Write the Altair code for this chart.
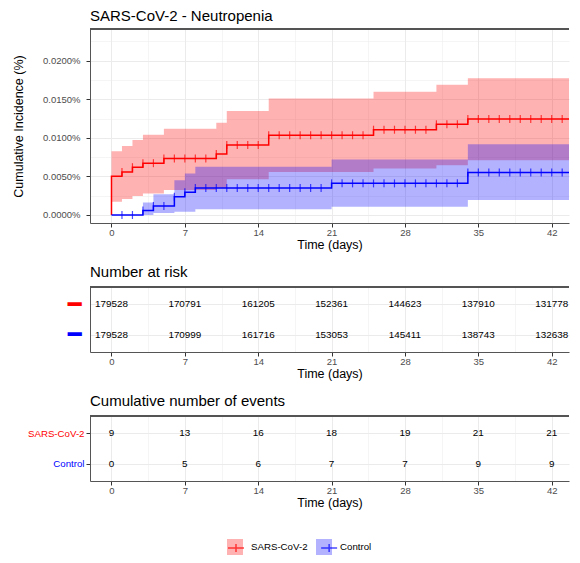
import altair as alt
import pandas as pd

GROUPS = ["SARS-CoV-2", "Control"]
RED, BLUE = "#FF0000", "#0000FF"

# ---- cumulative incidence (%) ----
red_t = [0, 1, 2, 3, 5, 10, 11, 15, 25, 31, 34]
red_est = [0.00501, 0.00559, 0.00620, 0.00672, 0.00731, 0.00792, 0.00908, 0.01034, 0.01106, 0.01176, 0.01244]
red_hi = [0.00827, 0.00895, 0.00973, 0.01042, 0.01119, 0.01197, 0.01348, 0.01512, 0.01597, 0.01688, 0.01774]
red_lo = [0.00172, 0.00207, 0.00245, 0.00279, 0.00323, 0.00350, 0.00465, 0.00559, 0.00602, 0.00646, 0.00710]

blue_t = [0, 3, 4, 6, 7, 8, 21, 34]
blue_est = [0.0, 0.00058, 0.00117, 0.00235, 0.00294, 0.00350, 0.00410, 0.00550]
blue_hi = [0.0, 0.00163, 0.00270, 0.00452, 0.00538, 0.00625, 0.00718, 0.00917]
blue_lo = [0.0, 0.00001, 0.00026, 0.00043, 0.00043, 0.00075, 0.00107, 0.00194]

censor_days = list(range(1, 44))

# ---- tables ----
table_times = [0, 7, 14, 21, 28, 35, 42]
risk_sars = [179528, 170791, 161205, 152361, 144623, 137910, 131778]
risk_ctrl = [179528, 170999, 161716, 153053, 145411, 138743, 132638]
events_sars = [9, 13, 16, 18, 19, 21, 21]
events_ctrl = [0, 5, 6, 7, 7, 9, 9]

x_major = [0, 7, 14, 21, 28, 35, 42]
x_minor = [3.5, 10.5, 17.5, 24.5, 31.5, 38.5]
y_major = [0.0, 0.005, 0.01, 0.015, 0.02]
y_minor = [0.0025, 0.0075, 0.0125, 0.0175, 0.0225]

X_MIN, X_MAX = -2.05, 43.65
Y_MIN, Y_MAX = -0.00104, 0.02412
W = 479
FONT = "Liberation Sans"
LEGEND_FONT_SIZE = 9.7


def step_value(ts, vals, d):
    v = vals[0]
    for t, val in zip(ts, vals):
        if t <= d:
            v = val
    return v


band_rows, line_rows, cens_rows = [], [], []
series = [
    ("SARS-CoV-2", red_t, red_est, red_lo, red_hi),
    ("Control", blue_t, blue_est, blue_lo, blue_hi),
]
for g, ts, est, lo, hi in series:
    for t, l, h in zip(ts, lo, hi):
        band_rows.append(dict(t=t, lo=l, hi=h, band=g))
    band_rows.append(dict(t=X_MAX, lo=lo[-1], hi=hi[-1], band=g))
    i = 0
    if est[0] > 0:
        line_rows.append(dict(t=ts[0], est=0.0, grp=g, i=i)); i += 1
    for t, e in zip(ts, est):
        line_rows.append(dict(t=t, est=e, grp=g, i=i)); i += 1
    line_rows.append(dict(t=X_MAX, est=est[-1], grp=g, i=i))
    for d in censor_days:
        cens_rows.append(dict(t=d, est=step_value(ts, est, d), grp=g))

band_df = pd.DataFrame(band_rows)
line_df = pd.DataFrame(line_rows)
cens_df = pd.DataFrame(cens_rows)

risk_df = pd.DataFrame(
    [dict(t=t, strata="SARS-CoV-2", n=n) for t, n in zip(table_times, risk_sars)]
    + [dict(t=t, strata="Control", n=n) for t, n in zip(table_times, risk_ctrl)]
)
ev_df = pd.DataFrame(
    [dict(t=t, strata="SARS-CoV-2", n=n) for t, n in zip(table_times, events_sars)]
    + [dict(t=t, strata="Control", n=n) for t, n in zip(table_times, events_ctrl)]
)

xscale = alt.Scale(domain=[X_MIN, X_MAX], nice=False, zero=False)
yscale = alt.Scale(domain=[Y_MIN, Y_MAX], nice=False, zero=False)

X_MAJOR_TEST = "datum.value % 7 === 0"
Y_MAJOR_TEST = "round(datum.value * 10000) % 50 === 0"


def x_axis():
    return alt.Axis(
        values=sorted(x_major + x_minor),
        labelExpr=f"{X_MAJOR_TEST} ? datum.label : ''",
        labelOverlap=False,
        labelFlush=False,
        gridWidth={"condition": {"test": X_MAJOR_TEST, "value": 1}, "value": 0.5},
        tickOpacity={"condition": {"test": X_MAJOR_TEST, "value": 1}, "value": 0},
        title="Time (days)",
        titlePadding=2,
        labelPadding=0,
    )


def y_axis():
    return alt.Axis(
        values=sorted(y_major + y_minor),
        labelExpr=f"{Y_MAJOR_TEST} ? format(datum.value, '.4f') + '%' : ''",
        labelOverlap=False,
        gridWidth={"condition": {"test": Y_MAJOR_TEST, "value": 1}, "value": 0.5},
        tickOpacity={"condition": {"test": Y_MAJOR_TEST, "value": 1}, "value": 0},
        title="Cumulative Incidence (%)",
        titlePadding=17,
        labelPadding=6,
    )


def top_rule():
    return alt.Chart().mark_rule(color="#555555", strokeWidth=1).encode(y=alt.value(0))


# legend position relative to the top panel's plot origin
LEG_X, LEG_Y = 137, 510
common_leg = dict(
    orient="none", legendX=LEG_X, legendY=LEG_Y, direction="horizontal",
    title=None, symbolSize=256, labelOffset=8, padding=0,
    labelFont=FONT, labelFontSize=LEGEND_FONT_SIZE, labelColor="#000000",
)
# width of the first legend label (Liberation Sans advance widths, em units)
first_label_em = 0.667 + 0.667 + 0.722 + 0.667 + 0.333 + 0.722 + 0.556 + 0.667 + 0.333 + 0.556

bands = alt.Chart(band_df).mark_area(interpolate="step-after", opacity=0.3, clip=True).encode(
    x=alt.X("t:Q", scale=xscale, axis=x_axis()),
    y=alt.Y("lo:Q", scale=yscale, axis=y_axis()),
    y2="hi:Q",
    fill=alt.Fill(
        "band:N", scale=alt.Scale(domain=GROUPS, range=[RED, BLUE]),
        legend=alt.Legend(symbolType="square", symbolOpacity=0.3, symbolStrokeWidth=0, zindex=0,
                          columnPadding=8, **common_leg),
    ),
)

line_color = dict(sort=GROUPS, scale=alt.Scale(range=[RED, BLUE]))

lines = alt.Chart(line_df).mark_line(interpolate="step-after", strokeWidth=1.5, clip=True).encode(
    x=alt.X("t:Q", scale=xscale, axis=x_axis()),
    y=alt.Y("est:Q", scale=yscale, axis=y_axis()),
    color=alt.Color(
        "grp:N", **line_color,
        legend=alt.Legend(
            symbolType="M-1,0H1M0,-0.5V0.5", symbolStrokeWidth=1.5, labelExpr="''", zindex=1,
            symbolFillColor="transparent",
            columnPadding=8 + first_label_em * LEGEND_FONT_SIZE,
            **common_leg,
        ),
    ),
    order="i:Q",
    detail="grp:N",
)

cens = alt.Chart(cens_df).mark_tick(orient="vertical", size=8, thickness=1.2, clip=True).encode(
    x=alt.X("t:Q", scale=xscale, axis=x_axis()),
    y=alt.Y("est:Q", scale=yscale, axis=y_axis()),
    color=alt.Color("grp:N", **line_color),
)

top = alt.layer(bands, lines, cens, top_rule(), data=band_df).properties(
    width=W, height=194,
    title=alt.TitleParams("SARS-CoV-2 - Neutropenia", anchor="start", frame="group", offset=5),
)

# ---- Number at risk ----
risk_text = alt.Chart(risk_df).mark_text(fontSize=9.9, font=FONT, color="#000000", clip=True).encode(
    x=alt.X("t:Q", scale=xscale, axis=x_axis()),
    y=alt.Y(
        "strata:N", sort=GROUPS, scale=alt.Scale(padding=0.56),
        axis=alt.Axis(
            title=None, ticks=False, labelPadding=9, grid=True, gridWidth=1,
            labelExpr="'━'", labelFont="DejaVu Sans", labelFontSize=23,
            labelColor={"condition": {"test": "datum.value === 'SARS-CoV-2'", "value": RED}, "value": BLUE},
        ),
    ),
    text="n:Q",
)
risk = alt.layer(risk_text, top_rule(), data=risk_df).properties(
    width=W, height=65,
    title=alt.TitleParams("Number at risk", anchor="start", frame="group", offset=7),
)

# ---- Cumulative number of events ----
ev_text = alt.Chart(ev_df).mark_text(fontSize=9.9, font=FONT, color="#000000", clip=True).encode(
    x=alt.X("t:Q", scale=xscale, axis=x_axis()),
    y=alt.Y(
        "strata:N", sort=GROUPS, scale=alt.Scale(padding=0.56),
        axis=alt.Axis(
            title=None, ticks=True, labelPadding=2, grid=True, gridWidth=1,
            labelFontSize=9.7,
            labelColor={"condition": {"test": "datum.value === 'SARS-CoV-2'", "value": RED}, "value": BLUE},
        ),
    ),
    text="n:Q",
)
events = alt.layer(ev_text, top_rule(), data=ev_df).properties(
    width=W, height=65,
    title=alt.TitleParams("Cumulative number of events", anchor="start", frame="group", offset=7),
)

chart = (
    alt.vconcat(top, risk, events, spacing=13)
    .properties(padding={"left": 4, "top": 0, "right": 0, "bottom": 0})
    .configure(font=FONT)
    .configure_view(stroke=None)
    .configure_axis(
        domainColor="#555555", domainWidth=1, tickColor="#333333", tickSize=4, tickWidth=1,
        labelColor="#4D4D4D", labelFontSize=9.5, labelFont=FONT,
        titleFont=FONT, titleFontSize=12.5, titleFontWeight="normal", titleColor="#000000",
        gridColor="#EBEBEB",
    )
    .configure_title(font=FONT, fontSize=15, fontWeight="normal", anchor="start", color="#000000")
)

chart.save("out.html", embed_options={"renderer": "svg", "actions": False})
